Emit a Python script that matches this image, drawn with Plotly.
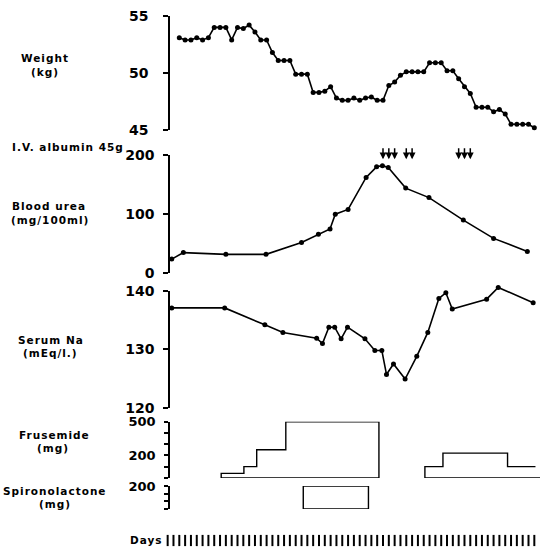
import plotly.graph_objects as go

# ---------------- data ----------------
weight_days = list(range(3, 65))
weight_kg = [53.1, 52.9, 52.9, 53.1, 52.9, 53.1, 54.0, 54.0, 54.0, 52.9,
             54.0, 53.9, 54.2, 53.6, 52.9, 52.9, 51.8, 51.1, 51.1, 51.1,
             49.9, 49.9, 49.9, 48.3, 48.3, 48.4, 48.8, 47.8, 47.6, 47.6,
             47.8, 47.6, 47.8, 47.9, 47.6, 47.6, 48.9, 49.2, 49.8, 50.1,
             50.1, 50.1, 50.1, 50.9, 50.9, 50.9, 50.2, 50.2, 49.5, 48.8,
             48.2, 47.0, 47.0, 47.0, 46.6, 46.8, 46.4, 45.5, 45.5, 45.5,
             45.5, 45.2]

albumin_days = [38, 39, 40, 42, 43, 51, 52, 53]

urea_days = [1.7, 3.7, 11.0, 17.9, 24.0, 26.9, 28.9, 29.8, 32.0, 35.1,
             36.9, 37.9, 38.9, 41.9, 45.9, 51.8, 57.0, 62.8]
urea_vals = [24, 35, 32, 32, 52, 66, 75, 100, 108, 162,
             180, 182, 179, 144, 128, 90, 59, 37]

na_days = [1.7, 10.8, 17.7, 20.8, 26.6, 27.6, 28.7, 29.7, 30.8, 31.9,
           34.9, 36.6, 37.8, 38.6, 39.8, 41.8, 43.8, 45.7, 47.6, 48.8,
           49.9, 55.8, 57.8, 63.8]
na_vals = [137.1, 137.1, 134.2, 132.9, 131.9, 131.0, 133.8, 133.8, 131.8, 133.8,
           131.8, 129.8, 129.8, 125.7, 127.5, 124.9, 128.8, 132.9, 138.7, 139.7,
           136.9, 138.6, 140.6, 138.0]

# frusemide courses: change-over days and doses (mg)
frus1_days = [10.2, 14.1, 16.3, 21.3, 37.3]
frus1_doses = [40, 100, 250, 500]
frus2_days = [45.2, 48.3, 59.4, 64.2]
frus2_doses = [100, 220, 100]

spiro_days = [24.3, 35.5]
spiro_dose = 200

day_ticks = list(range(1, 65))

# ---------------- geometry ----------------
W, H = 540, 547
X0_PX = 170          # left edge of panels (y axis lines)
DAY_A, DAY_B = 161.84, 5.82   # px = DAY_A + DAY_B*day


def px2day(px):
    return (px - DAY_A) / DAY_B


def ydom(top_px, bot_px):
    return [1 - bot_px / H, 1 - top_px / H]


x_range = [px2day(X0_PX), px2day(W)]
x_dom = [X0_PX / W, 1]

fig = go.Figure()

line = dict(color="black", width=1.6)
mark = dict(color="black", size=5)

fig.add_trace(go.Scatter(x=weight_days, y=weight_kg, mode="lines+markers",
                         line=line, marker=mark, xaxis="x", yaxis="y",
                         cliponaxis=False))
fig.add_trace(go.Scatter(x=urea_days, y=urea_vals, mode="lines+markers",
                         line=line, marker=mark, xaxis="x2", yaxis="y2",
                         cliponaxis=False))
# sodium: hidden copy on the visible axis (so the axis is drawn) ...
fig.add_trace(go.Scatter(x=na_days, y=na_vals, mode="none", hoverinfo="skip",
                         xaxis="x3", yaxis="y3"))
# ... and the drawn series on a hidden axis with the same scale plus a little headroom
fig.add_trace(go.Scatter(x=na_days, y=na_vals, mode="lines+markers",
                         line=line, marker=mark, xaxis="x3", yaxis="y7",
                         cliponaxis=False))

# frusemide course 1 (closed stair outline)
fx, fy = [frus1_days[0]], [0]
for k, d in enumerate(frus1_doses):
    fx += [frus1_days[k], frus1_days[k + 1]]
    fy += [d, d]
fx += [frus1_days[-1], frus1_days[0]]
fy += [0, 0]
fig.add_trace(go.Scatter(x=fx, y=fy, mode="lines", line=dict(color="black", width=1.4),
                         xaxis="x4", yaxis="y4", cliponaxis=False))

# frusemide course 2 (open at right)
gx, gy = [x_range[1], frus2_days[0]], [0, 0]
for k, d in enumerate(frus2_doses):
    gx += [frus2_days[k], frus2_days[k + 1]]
    gy += [d, d]
fig.add_trace(go.Scatter(x=gx, y=gy, mode="lines", line=dict(color="black", width=1.4),
                         xaxis="x4", yaxis="y4", cliponaxis=False))

# spironolactone box
sx = [spiro_days[0], spiro_days[0], spiro_days[1], spiro_days[1], spiro_days[0]]
sy = [0, spiro_dose, spiro_dose, 0, 0]
fig.add_trace(go.Scatter(x=sx, y=sy, mode="lines", line=dict(color="black", width=1.4),
                         xaxis="x5", yaxis="y5", cliponaxis=False))

# day ruler
fig.add_trace(go.Scatter(x=day_ticks, y=[0] * len(day_ticks), mode="markers",
                         marker=dict(symbol="line-ns", size=8,
                                     line=dict(color="black", width=2)),
                         xaxis="x6", yaxis="y6", cliponaxis=False))

# albumin arrows
for d in albumin_days:
    fig.add_annotation(x=d, y=193, ax=d, ay=214, xref="x2", yref="y2",
                       axref="x2", ayref="y2", showarrow=True, arrowhead=2,
                       arrowsize=0.9, arrowwidth=1.5, arrowcolor="black", text="")

tick_font = dict(family="DejaVu Sans", size=14, color="black", weight="bold")


def yax(dom, rng, tickvals, ticktext=None, standoff=5, ticklen=5, fsize=14):
    d = dict(domain=dom, range=rng, showline=True, linecolor="black", linewidth=1.6,
             ticks="outside", ticklen=ticklen, tickwidth=1.6, tickcolor="black",
             showgrid=False, zeroline=False, tickvals=tickvals,
             tickfont=dict(tick_font, size=fsize), ticklabelstandoff=standoff,
             fixedrange=True, automargin=False)
    if ticktext is not None:
        d["ticktext"] = ticktext
    return d


def xax(anchor, dom=x_dom, rng=x_range):
    return dict(domain=dom, range=rng, visible=False, anchor=anchor, fixedrange=True,
                automargin=False)


NA_TOP, NA_BOT = 291.0, 407.7
na_pu = (NA_BOT - NA_TOP) / 20.0
na_head = 2.0

fig.update_layout(
    width=W, height=H, margin=dict(l=0, r=0, t=0, b=0, pad=0, autoexpand=False),
    paper_bgcolor="white", plot_bgcolor="rgba(0,0,0,0)", showlegend=False,
    xaxis=xax("y"), xaxis2=xax("y2"), xaxis3=xax("y3"), xaxis4=xax("y4"),
    xaxis5=xax("y5"),
    xaxis6=xax("y6", dom=[160 / W, 1], rng=[px2day(160), px2day(W)]),
    yaxis=yax(ydom(16, 130), [45, 55], [45, 50, 55], standoff=12),
    yaxis2=yax(ydom(155, 273.3), [0, 200], [0, 100, 200], standoff=6),
    yaxis3=yax(ydom(NA_TOP, NA_BOT), [120, 140], [120, 130, 140], standoff=6),
    yaxis4=yax(ydom(421.7, 477.9), [0, 500], [0, 100, 200, 300, 400, 500],
               ["", "", "200", "", "", "500"], standoff=6, ticklen=4, fsize=13),
    yaxis5=yax(ydom(486, 509), [0, 200], [0, 66.7, 133.3, 200],
               ["", "", "", "200"], standoff=6, ticklen=4, fsize=13),
    yaxis6=dict(domain=ydom(536, 545), range=[-1, 1], visible=False, fixedrange=True),
    yaxis7=dict(domain=ydom(NA_TOP - na_head * na_pu, NA_BOT), range=[120, 140 + na_head],
                visible=False, fixedrange=True, anchor="x3"),
)

lab_font = dict(family="DejaVu Sans", size=10.5, color="black", weight="bold")
labels = [
    ("Weight", 45, 58), ("(kg)", 45, 72),
    ("I.V. albumin 45g", 68, 147),
    ("Blood urea", 49, 206), ("(mg/100ml)", 50, 220),
    ("Serum Na", 51, 340), ("(mEq/l.)", 50, 353),
    ("Frusemide", 54, 435), ("(mg)", 53, 448),
    ("Spironolactone", 55, 491), ("(mg)", 55, 504),
    ("Days", 146, 540),
]
for t, x, y in labels:
    fig.add_annotation(text='<span style="letter-spacing:1px">' + t + '</span>',
                       x=x / W, y=1 - y / H, xref="paper", yref="paper",
                       showarrow=False, font=lab_font, xanchor="center", yanchor="middle")

fig.write_html("out.html", config={"displayModeBar": False},
               post_script="document.body.style.margin='0';document.body.style.padding='0';")
